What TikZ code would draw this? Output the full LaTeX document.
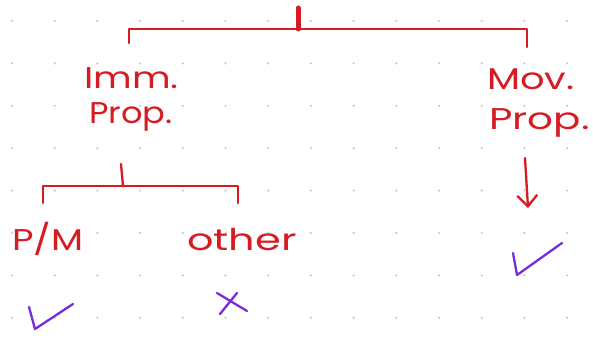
\documentclass[tikz,border=0pt]{standalone}
\usepackage{fontspec}
\setmainfont{Poppins}
\usetikzlibrary{arrows.meta}
\definecolor{ink}{RGB}{214,28,34}
\definecolor{tick}{RGB}{118,44,222}
\definecolor{dotc}{RGB}{200,200,200}
\tikzset{
  hand/.style={text=ink, font=\fontsize{30}{33}\selectfont, inner sep=0pt, anchor=base west, transform shape},
  redline/.style={draw=ink, line width=2.3pt, line cap=round, line join=round},
  markline/.style={draw=tick, line width=2.3pt, line cap=round, line join=round},
}
\begin{document}
\begin{tikzpicture}[x=1pt,y=-1pt]
\useasboundingbox[fill=white] (0,0) rectangle (593,337);
% dotted paper
\foreach \i in {0,...,13}{
  \foreach \j in {0,...,7}{
    \fill[dotc] ({12+42.7*\i},{21+42.4*\j}) circle (1.2);
  }
}
% top level
\coordinate (root) at (298,8);
\coordinate (rootbar) at (298,29);
\coordinate (lt) at (129,29);
\coordinate (ltend) at (129,43);
\coordinate (rt) at (527,29);
\coordinate (rtend) at (527,47);
\draw[draw=ink, line width=5pt, line cap=round] (root) -- (rootbar);
\draw[redline] (ltend) -- (lt) -- (rt) -- (rtend);
\node[hand, xscale=1.25] (imm) at (84,88) {Imm.};
\node[hand, xscale=1.12] (immprop) at (89,123) {Prop.};
\node[hand, xscale=1.28] (mov) at (487,89) {Mov.};
\node[hand, xscale=1.35] (movprop) at (489,129) {Prop.};
% left subtree
\coordinate (sub) at (121,164);
\coordinate (subbar) at (123,186);
\coordinate (sl) at (43,186);
\coordinate (slend) at (43,203);
\coordinate (sr) at (238,186);
\coordinate (srend) at (238,203);
\draw[redline] (sub) -- (subbar);
\draw[redline] (slend) -- (sl) -- (sr) -- (srend);
\node[hand, xscale=1.24] (pm) at (12,250) {P/M};
\node[hand, xscale=1.38] (other) at (187,250) {other};
% right arrow
\coordinate (arrtop) at (525,158);
\coordinate (arrtip) at (528,208);
\draw[redline, -{Straight Barb[length=11pt,width=20pt,line width=2.3pt]}] (arrtop) -- (arrtip);
% marks
\draw[markline] (29,307) -- (35,329) -- (73,304);
\draw[markline] (513,253) -- (517,275) -- (562,243);
\draw[markline] (217,293) -- (247,311);
\draw[markline] (237,293) -- (220,314);
\end{tikzpicture}
\end{document}
